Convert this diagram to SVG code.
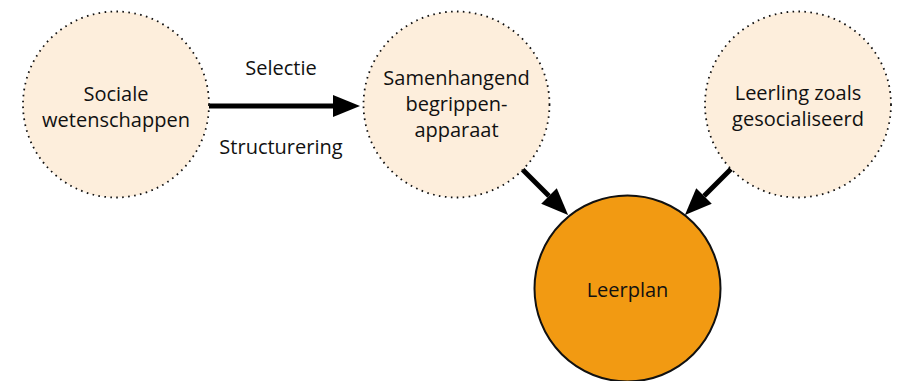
<svg xmlns="http://www.w3.org/2000/svg" width="898" height="381" viewBox="0 0 898 381">
<defs>
<style>
.src{fill:#FDEEDC;stroke:#111;stroke-width:1.8;stroke-dasharray:1.6 4.4}
.main{fill:#F29A12;stroke:#111;stroke-width:2}
text{font-family:"Open Sans","Liberation Sans",sans-serif;font-size:20px;fill:#111;text-anchor:middle}
.conn{stroke:#000;stroke-width:5;fill:none}
</style>
<marker id="ah" markerUnits="userSpaceOnUse" markerWidth="28" markerHeight="22" refX="0" refY="11" orient="auto" viewBox="0 0 28 22">
<path d="M0,0 L27,11 L0,22 z" fill="#000"/>
</marker>
</defs>
<rect width="898" height="381" fill="#fff"/>
<g id="connectors">
<line class="conn" x1="209" y1="106" x2="333" y2="106" marker-end="url(#ah)"/>
<line class="conn" x1="522" y1="169" x2="549" y2="196" marker-end="url(#ah)"/>
<line class="conn" x1="731" y1="169" x2="704" y2="196" marker-end="url(#ah)"/>
<text x="281" y="75">Selectie</text>
<text x="281" y="154">Structurering</text>
</g>
<g id="sociale">
<circle class="src" cx="116" cy="104.5" r="93"/>
<text x="116" y="101">Sociale</text>
<text x="116" y="127">wetenschappen</text>
</g>
<g id="samenhangend">
<circle class="src" cx="456.5" cy="104.5" r="93"/>
<text x="456.5" y="85">Samenhangend</text>
<text x="456.5" y="111">begrippen-</text>
<text x="456.5" y="137">apparaat</text>
</g>
<g id="leerling">
<circle class="src" cx="798" cy="104.5" r="93"/>
<text x="798" y="100">Leerling zoals</text>
<text x="798" y="126">gesocialiseerd</text>
</g>
<g id="leerplan">
<circle class="main" cx="627.5" cy="288.5" r="93"/>
<text x="627.5" y="297">Leerplan</text>
</g>
</svg>
